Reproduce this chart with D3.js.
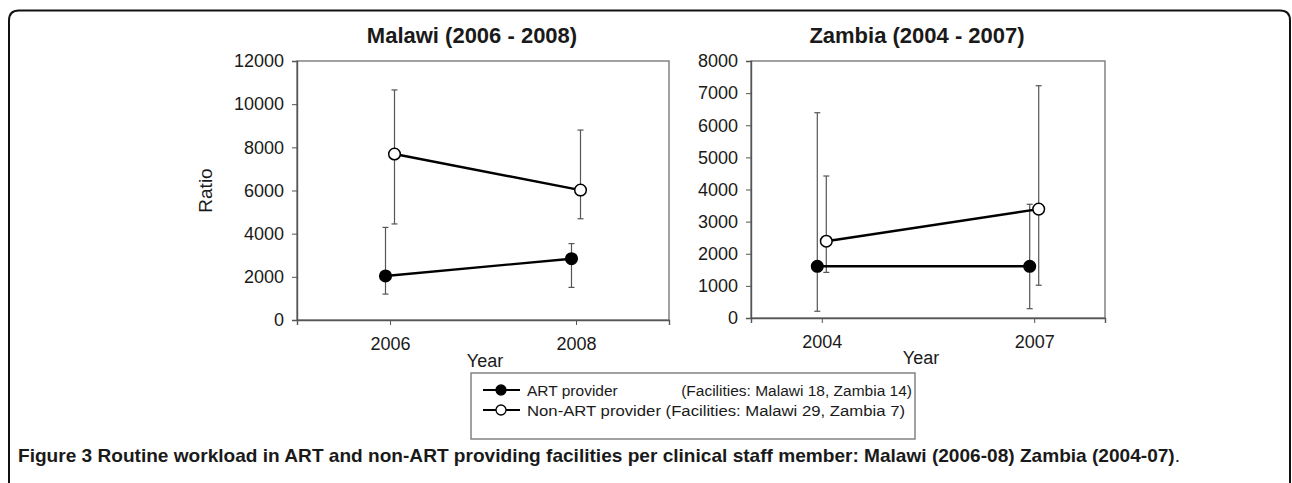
<!DOCTYPE html>
<html><head><meta charset="utf-8">
<script src="https://cdn.jsdelivr.net/npm/d3@7"></script>
<style>
html,body{margin:0;padding:0;background:#fff;}
svg{display:block;}
text{font-family:"Liberation Sans",Arial,sans-serif;fill:#1a1a1a;}
</style></head>
<body>
<svg id="c" width="1292" height="483"></svg>
<script>
// ---- data ----
const malawiYears = [2006, 2008];
const malawiArt = [2040, 2840];
const malawiArtLow = [1200, 1510];
const malawiArtHigh = [4290, 3540];
const malawiNon = [7690, 6020];
const malawiNonLow = [4450, 4690];
const malawiNonHigh = [10660, 8800];
const malawiYTicks = [0, 2000, 4000, 6000, 8000, 10000, 12000];

const zambiaYears = [2004, 2007];
const zambiaArt = [1610, 1610];
const zambiaArtLow = [210, 290];
const zambiaArtHigh = [6390, 3540];
const zambiaNon = [2390, 3390];
const zambiaNonLow = [1420, 1020];
const zambiaNonHigh = [4420, 7230];
const zambiaYTicks = [0, 1000, 2000, 3000, 4000, 5000, 6000, 7000, 8000];

const legendLabels = ["ART provider", "Non-ART provider"];
const legendNotes = ["(Facilities: Malawi 18, Zambia 14)", "(Facilities: Malawi 29, Zambia 7)"];
const captionBold = "Figure 3 Routine workload in ART and non-ART providing facilities per clinical staff member: Malawi (2006-08) Zambia (2004-07)";
const captionEnd = ".";

const svg = d3.select("#c");

// outer frame (open at bottom, rounded top corners)
const fr = {l: 9, r: 1290, t: 10.5, b: 490, rad: 10};
svg.append("path")
  .attr("d", `M${fr.l},${fr.b} L${fr.l},${fr.t+fr.rad} Q${fr.l},${fr.t} ${fr.l+fr.rad},${fr.t} L${fr.r-fr.rad},${fr.t} Q${fr.r},${fr.t} ${fr.r},${fr.t+fr.rad} L${fr.r},${fr.b}`)
  .attr("fill","none").attr("stroke","#111").attr("stroke-width",2);

function panel(cfg){
  const g = svg.append("g");
  const x = d3.scaleLinear().domain(cfg.xdom).range([cfg.left, cfg.right]);
  const y = d3.scaleLinear().domain(cfg.ydom).range([cfg.bottom, cfg.top]);
  g.append("rect").attr("x",cfg.left).attr("y",cfg.top)
    .attr("width",cfg.right-cfg.left).attr("height",cfg.bottom-cfg.top)
    .attr("fill","none").attr("stroke","#7a7a7a").attr("stroke-width",1.4);
  const ya = g.append("g").attr("transform",`translate(${cfg.left},0)`)
    .call(d3.axisLeft(y).tickValues(cfg.yticks).tickFormat(d3.format("d")).tickSize(5).tickPadding(8));
  ya.select(".domain").attr("stroke","#555").attr("stroke-width",1.4);
  ya.selectAll(".tick line").attr("stroke","#555");
  ya.selectAll("text").attr("font-size",18).attr("fill","#1a1a1a").attr("font-family","Liberation Sans, Arial, sans-serif");
  const xa = g.append("g").attr("transform",`translate(0,${cfg.bottom})`)
    .call(d3.axisBottom(x).tickValues(cfg.years).tickFormat(d3.format("d")).tickSize(5).tickPadding(12));
  xa.select(".domain").attr("stroke","#555").attr("stroke-width",1.4);
  xa.selectAll(".tick line").attr("stroke","#555");
  xa.selectAll("text").attr("font-size",18).attr("fill","#1a1a1a").attr("font-family","Liberation Sans, Arial, sans-serif");
  g.append("text").attr("x",(cfg.left+cfg.right)/2 - 11).attr("y",43)
    .attr("text-anchor","middle").attr("font-size",22).attr("font-weight","bold").text(cfg.title);
  g.append("text").attr("x",cfg.yearX).attr("y",cfg.yearY).attr("text-anchor","middle")
    .attr("font-size",18).text("Year");
  if (cfg.ratio){
    g.append("text").attr("transform",`translate(${cfg.left-85},${(cfg.top+cfg.bottom)/2}) rotate(-90)`)
      .attr("text-anchor","middle").attr("font-size",19).text("Ratio");
  }
  const dodge = 4.5;
  const series = [
    {v: cfg.non, lo: cfg.nonLow, hi: cfg.nonHigh, fill:"#fff", dx: dodge},
    {v: cfg.art, lo: cfg.artLow, hi: cfg.artHigh, fill:"#000", dx: -dodge}
  ];
  series.forEach(s=>{
    const pts = cfg.years.map((yr,i)=>({yr, v:s.v[i], lo:s.lo[i], hi:s.hi[i]}));
    const eb = g.append("g").attr("stroke","#555").attr("stroke-width",1.2);
    pts.forEach(p=>{
      const cx = x(p.yr)+s.dx;
      eb.append("line").attr("x1",cx).attr("x2",cx).attr("y1",y(p.lo)).attr("y2",y(p.hi));
      eb.append("line").attr("x1",cx-3).attr("x2",cx+3).attr("y1",y(p.lo)).attr("y2",y(p.lo));
      eb.append("line").attr("x1",cx-3).attr("x2",cx+3).attr("y1",y(p.hi)).attr("y2",y(p.hi));
    });
  });
  series.forEach(s=>{
    const pts = cfg.years.map((yr,i)=>({yr, v:s.v[i]}));
    g.append("path").datum(pts)
      .attr("d", d3.line().x(p=>x(p.yr)+s.dx).y(p=>y(p.v)))
      .attr("fill","none").attr("stroke","#000").attr("stroke-width",2.4);
  });
  series.forEach(s=>{
    const pts = cfg.years.map((yr,i)=>({yr, v:s.v[i]}));
    g.selectAll(null).data(pts).join("circle")
      .attr("cx",p=>x(p.yr)+s.dx).attr("cy",p=>y(p.v)).attr("r",5.8)
      .attr("fill",s.fill).attr("stroke","#000").attr("stroke-width",1.5);
  });
}

panel({left:297, right:669, top:61, bottom:320, xdom:[2005,2009], ydom:[0,12000],
  yticks: malawiYTicks, years: malawiYears, title:"Malawi (2006 - 2008)",
  art: malawiArt, artLow: malawiArtLow, artHigh: malawiArtHigh,
  non: malawiNon, nonLow: malawiNonLow, nonHigh: malawiNonHigh,
  ratio:true, yearX:485, yearY:367});

panel({left:751, right:1105, top:61, bottom:318, xdom:[2003,2008], ydom:[0,8000],
  yticks: zambiaYTicks, years: zambiaYears, title:"Zambia (2004 - 2007)",
  art: zambiaArt, artLow: zambiaArtLow, artHigh: zambiaArtHigh,
  non: zambiaNon, nonLow: zambiaNonLow, nonHigh: zambiaNonHigh,
  ratio:false, yearX:921, yearY:364});

// legend
const lg = svg.append("g");
lg.append("rect").attr("x",471).attr("y",373).attr("width",444).attr("height",66)
  .attr("fill","#fff").attr("stroke","#7a7a7a").attr("stroke-width",1.4);
const fills = ["#000","#fff"];
legendLabels.forEach((lab,i)=>{
  const cy = 390 + i*20;
  lg.append("line").attr("x1",483).attr("x2",520).attr("y1",cy).attr("y2",cy)
    .attr("stroke","#000").attr("stroke-width",2);
  lg.append("circle").attr("cx",501).attr("cy",cy).attr("r",5).attr("fill",fills[i])
    .attr("stroke","#000").attr("stroke-width",1.3);
  if (i === 0) {
    lg.append("text").attr("x",527).attr("y",cy+6).attr("font-size",15.5).text(lab);
    lg.append("text").attr("x",912).attr("y",cy+6).attr("font-size",15.5)
      .attr("text-anchor","end").text(legendNotes[i]);
  } else {
    lg.append("text").attr("x",527).attr("y",cy+6).attr("font-size",15.5)
      .attr("textLength",378).attr("lengthAdjust","spacingAndGlyphs")
      .text(lab + " " + legendNotes[i]);
  }
});

// caption
const cap = svg.append("text").attr("x",18).attr("y",462)
  .attr("font-family","Open Sans, sans-serif").attr("font-size",19)
  .attr("textLength",1162).attr("lengthAdjust","spacingAndGlyphs");
cap.append("tspan").attr("font-weight","bold").text(captionBold);
cap.append("tspan").text(captionEnd);
</script>
</body></html>
